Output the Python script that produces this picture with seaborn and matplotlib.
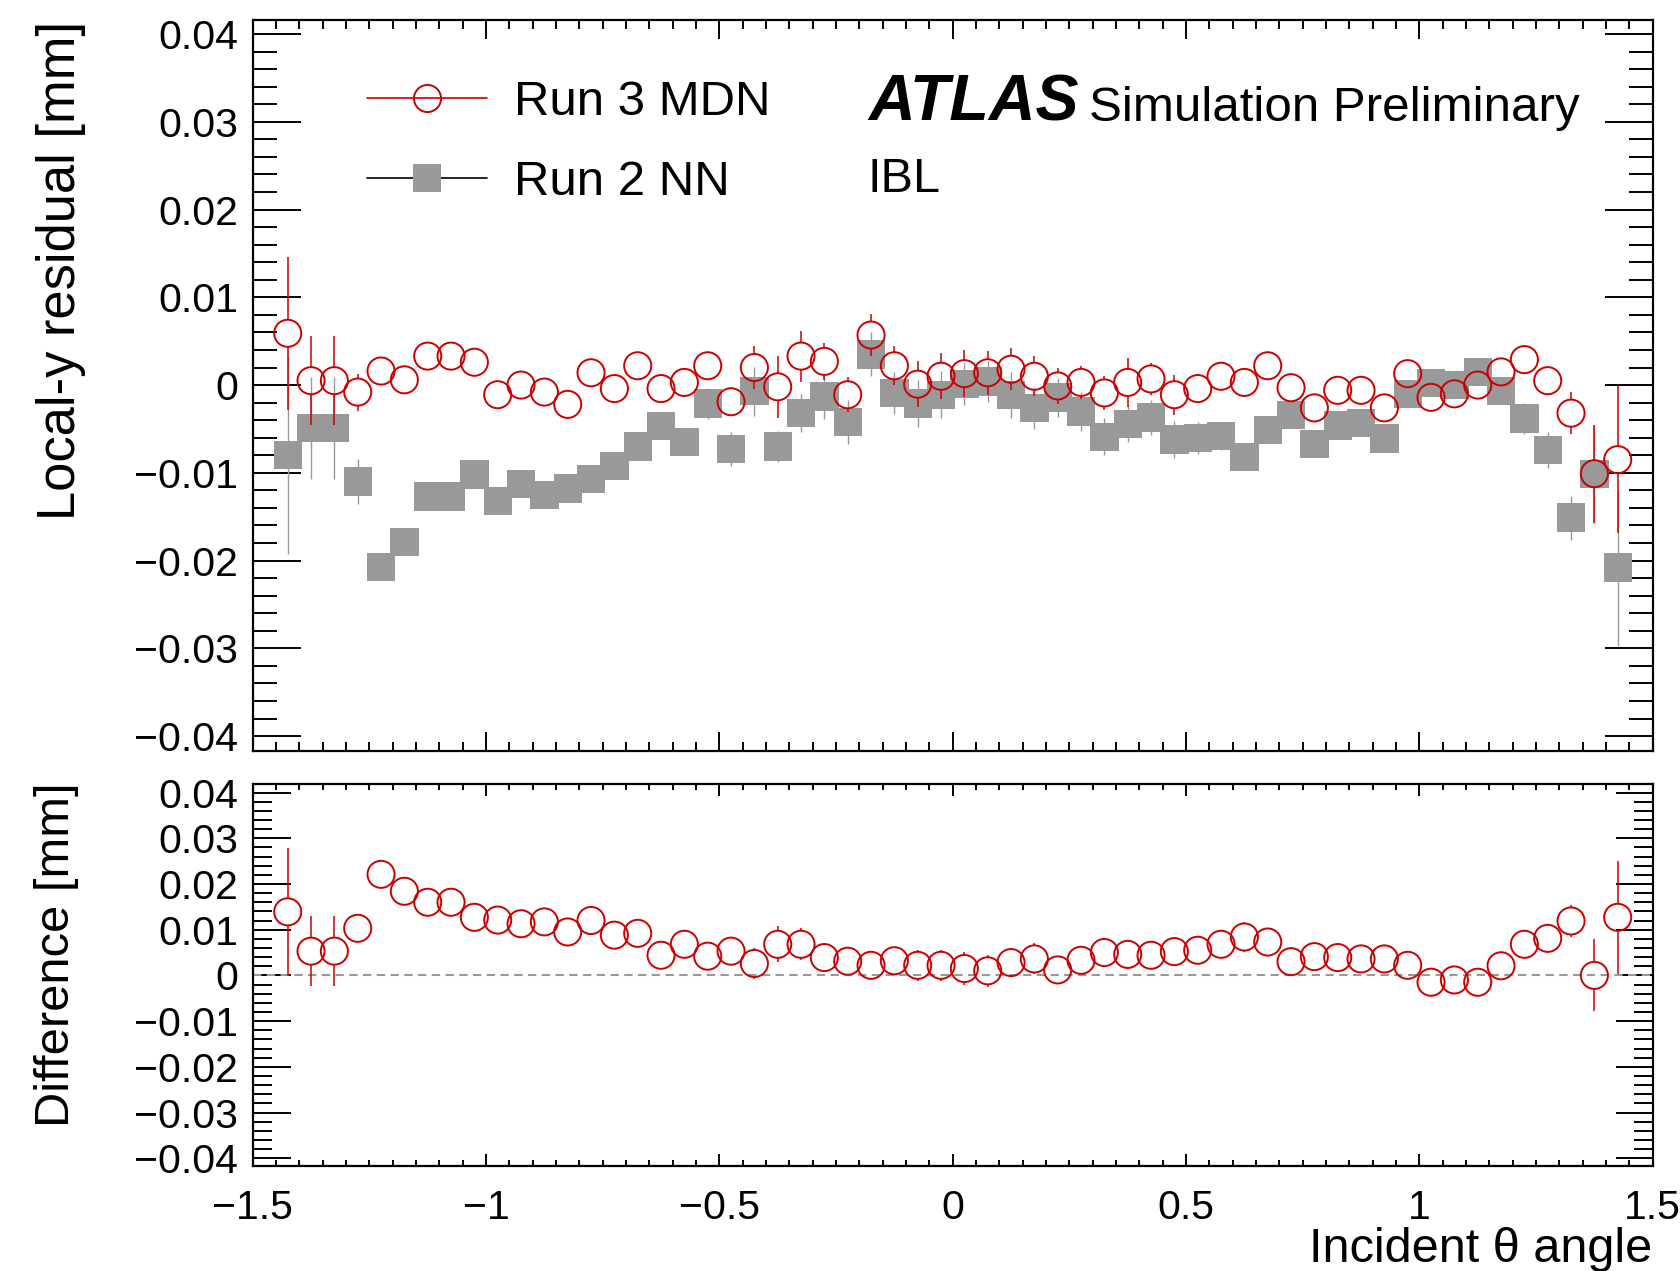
import numpy as np
import pandas as pd
import matplotlib
matplotlib.use("Agg")
import matplotlib.pyplot as plt
import seaborn as sns
from matplotlib.lines import Line2D
from matplotlib.ticker import MultipleLocator, FuncFormatter, NullFormatter

# ---------------- data ----------------
theta = [-1.425, -1.375, -1.325, -1.275, -1.225, -1.175, -1.125, -1.075, -1.025, -0.975,
         -0.925, -0.875, -0.825, -0.775, -0.725, -0.675, -0.625, -0.575, -0.525, -0.475,
         -0.425, -0.375, -0.325, -0.275, -0.225, -0.175, -0.125, -0.075, -0.025, 0.025,
         0.075, 0.125, 0.175, 0.225, 0.275, 0.325, 0.375, 0.425, 0.475, 0.525,
         0.575, 0.625, 0.675, 0.725, 0.775, 0.825, 0.875, 0.925, 0.975, 1.025,
         1.075, 1.125, 1.175, 1.225, 1.275, 1.325, 1.375, 1.425]

run3_mdn = [0.0059, 0.0005, 0.0005, -0.0008, 0.0016, 0.0006, 0.0033, 0.0033, 0.0026, -0.0011,
            0.0000, -0.0008, -0.0022, 0.0014, -0.0004, 0.0022, -0.0004, 0.0003, 0.0022, -0.0019,
            0.0020, -0.0002, 0.0033, 0.0027, -0.0011, 0.0057, 0.0022, 0.0001, 0.0010, 0.0013,
            0.0014, 0.0018, 0.0010, -0.0001, 0.0003, -0.0009, 0.0003, 0.0007, -0.0011, -0.0004,
            0.0010, 0.0003, 0.0022, -0.0003, -0.0026, -0.0006, -0.0006, -0.0026, 0.0013, -0.0014,
            -0.0010, 0.0000, 0.0015, 0.0029, 0.0005, -0.0032, -0.0101, -0.0085]
run3_err = [0.0087, 0.0051, 0.0051, 0.0021, 0.0012, 0.0012, 0.0010, 0.0010, 0.0010, 0.0010,
            0.0010, 0.0010, 0.0010, 0.0010, 0.0010, 0.0012, 0.0012, 0.0012, 0.0014, 0.0014,
            0.0024, 0.0035, 0.0029, 0.0021, 0.0020, 0.0024, 0.0022, 0.0026, 0.0026, 0.0027,
            0.0025, 0.0024, 0.0023, 0.0021, 0.0019, 0.0019, 0.0028, 0.0018, 0.0023, 0.0014,
            0.0012, 0.0012, 0.0012, 0.0012, 0.0012, 0.0012, 0.0012, 0.0012, 0.0012, 0.0012,
            0.0012, 0.0012, 0.0012, 0.0012, 0.0014, 0.0024, 0.0056, 0.0084]

run2_nn = [-0.0080, -0.0049, -0.0049, -0.0110, -0.0207, -0.0179, -0.0127, -0.0127, -0.0102, -0.0132,
           -0.0113, -0.0125, -0.0118, -0.0107, -0.0092, -0.0070, -0.0047, -0.0065, -0.0021, -0.0073,
           -0.0007, -0.0070, -0.0032, -0.0013, -0.0042, 0.0035, -0.0009, -0.0021, -0.0011, 0.0001,
           0.0004, -0.0011, -0.0026, -0.0014, -0.0030, -0.0059, -0.0044, -0.0037, -0.0062, -0.0060,
           -0.0058, -0.0082, -0.0051, -0.0034, -0.0067, -0.0046, -0.0043, -0.0061, -0.0010, 0.0002,
           0.0000, 0.0015, -0.0007, -0.0038, -0.0074, -0.0151, -0.0101, -0.0208]
run2_err = [0.0112, 0.0058, 0.0058, 0.0026, 0.0012, 0.0012, 0.0010, 0.0010, 0.0010, 0.0010,
            0.0010, 0.0010, 0.0010, 0.0010, 0.0010, 0.0012, 0.0012, 0.0012, 0.0018, 0.0019,
            0.0028, 0.0018, 0.0022, 0.0026, 0.0025, 0.0025, 0.0024, 0.0027, 0.0027, 0.0024,
            0.0023, 0.0026, 0.0024, 0.0022, 0.0022, 0.0021, 0.0021, 0.0020, 0.0021, 0.0018,
            0.0016, 0.0014, 0.0014, 0.0014, 0.0014, 0.0014, 0.0014, 0.0014, 0.0014, 0.0014,
            0.0014, 0.0014, 0.0014, 0.0018, 0.0020, 0.0025, 0.0056, 0.0089]

difference = [0.0139, 0.0053, 0.0053, 0.0103, 0.0221, 0.0184, 0.0160, 0.0160, 0.0127, 0.0121,
              0.0113, 0.0117, 0.0095, 0.0120, 0.0088, 0.0092, 0.0044, 0.0068, 0.0042, 0.0053,
              0.0026, 0.0068, 0.0068, 0.0039, 0.0031, 0.0022, 0.0032, 0.0022, 0.0022, 0.0015,
              0.0010, 0.0028, 0.0036, 0.0012, 0.0033, 0.0050, 0.0046, 0.0044, 0.0052, 0.0055,
              0.0068, 0.0084, 0.0073, 0.0030, 0.0041, 0.0039, 0.0036, 0.0036, 0.0022, -0.0015,
              -0.0010, -0.0015, 0.0021, 0.0068, 0.0081, 0.0119, 0.0000, 0.0127]
diff_err = [0.0140, 0.0076, 0.0076, 0.0030, 0.0020, 0.0020, 0.0018, 0.0018, 0.0018, 0.0018,
            0.0018, 0.0018, 0.0018, 0.0018, 0.0018, 0.0020, 0.0020, 0.0020, 0.0024, 0.0025,
            0.0034, 0.0039, 0.0035, 0.0031, 0.0030, 0.0031, 0.0030, 0.0034, 0.0034, 0.0036,
            0.0035, 0.0032, 0.0034, 0.0030, 0.0029, 0.0028, 0.0032, 0.0027, 0.0030, 0.0024,
            0.0022, 0.0033, 0.0020, 0.0020, 0.0020, 0.0020, 0.0020, 0.0020, 0.0020, 0.0020,
            0.0020, 0.0020, 0.0020, 0.0022, 0.0025, 0.0034, 0.0079, 0.0124]

x_ticks = [-1.5, -1.0, -0.5, 0.0, 0.5, 1.0, 1.5]
legend_labels = ["Run 3 MDN", "Run 2 NN"]

df = pd.DataFrame({"theta": theta, "run3": run3_mdn, "run3_err": run3_err,
                   "run2": run2_nn, "run2_err": run2_err,
                   "diff": difference, "diff_err": diff_err})

# ---------------- style ----------------
RED = "#cc0000"
GRAY = "#999999"
DPI = 100
W, H = 1681, 1271

sns.set_theme(style="ticks")
plt.rcParams["font.family"] = ["Liberation Sans", "DejaVu Sans"]
plt.rcParams["axes.unicode_minus"] = True
plt.rcParams["text.color"] = "black"

fig = plt.figure(figsize=(W / DPI, H / DPI), dpi=DPI)
LEFT, RIGHT = 252.7, 1652.7


def rect(top, bottom):
    return [LEFT / W, 1 - bottom / H, (RIGHT - LEFT) / W, (bottom - top) / H]


ax1 = fig.add_axes(rect(20, 751))
ax2 = fig.add_axes(rect(784.3, 1166))

YL1 = (-0.0417, 0.0416)
YL2 = (-0.0417, 0.0418)
XL = (-1.5, 1.5)

MS_C = 19.5   # circle diameter, pt
MS_S = 20.4   # square side, pt


def fmt(v, pos=None):
    v = round(v, 6)
    if abs(v) < 1e-9:
        return "0"
    return f"{v:g}".replace("-", "\u2212")


def radius_data(ax_h_px, ylim):
    return (MS_C / 2 * DPI / 72) / ax_h_px * (ylim[1] - ylim[0])


def split_bars(ax, x, y, e, r, color, lw, z):
    x = np.asarray(x); y = np.asarray(y); e = np.asarray(e)
    m = e > r
    ax.vlines(x[m], y[m] + r, y[m] + e[m], color=color, lw=lw, zorder=z)
    ax.vlines(x[m], y[m] - e[m], y[m] - r, color=color, lw=lw, zorder=z)


# ---------------- top panel ----------------
ax1.set_xlim(*XL)
ax1.set_ylim(*YL1)
ax1.vlines(df["theta"], df["run2"] - df["run2_err"], df["run2"] + df["run2_err"],
           color=GRAY, lw=1.0, zorder=2)
sns.scatterplot(data=df, x="theta", y="run2", ax=ax1, marker="s", s=MS_S ** 2,
                color=GRAY, edgecolor="none", linewidth=0, zorder=3, legend=False)
r1 = radius_data(731, YL1)
split_bars(ax1, df["theta"], df["run3"], df["run3_err"], r1, RED, 1.1, 4)
sns.scatterplot(data=df, x="theta", y="run3", ax=ax1, marker="o", s=MS_C ** 2,
                color=RED, facecolor="none", edgecolor=RED, linewidth=1.4, zorder=5,
                legend=False)

# ---------------- bottom panel ----------------
ax2.set_xlim(*XL)
ax2.set_ylim(*YL2)
ax2.axhline(0, color=GRAY, lw=1.5, ls=(0, (4, 2.6)), zorder=1)
r2 = radius_data(381.7, YL2)
split_bars(ax2, df["theta"], df["diff"], df["diff_err"], r2, RED, 1.1, 4)
sns.scatterplot(data=df, x="theta", y="diff", ax=ax2, marker="o", s=MS_C ** 2,
                color=RED, facecolor="none", edgecolor=RED, linewidth=1.4, zorder=5,
                legend=False)

# ---------------- axes cosmetics ----------------
for ax in (ax1, ax2):
    ax.set_xlabel("")
    ax.set_ylabel("")
    for sp in ax.spines.values():
        sp.set_visible(True)
        sp.set_color("black")
        sp.set_linewidth(1.6)
    ax.xaxis.set_major_locator(MultipleLocator(0.5))
    ax.xaxis.set_minor_locator(MultipleLocator(0.05))
    ax.yaxis.set_major_locator(MultipleLocator(0.01))
    ax.yaxis.set_minor_locator(MultipleLocator(0.002))
    ax.yaxis.set_major_formatter(FuncFormatter(fmt))
    ax.tick_params(which="both", direction="in", top=True, bottom=True, left=True,
                   right=True, color="black", labelcolor="black", width=1.4)
    ax.tick_params(axis="y", which="major", labelsize=29.5, pad=10.4)

ax1.tick_params(axis="x", which="major", length=13.7, labelbottom=False)
ax1.tick_params(axis="x", which="minor", length=6.5)
ax1.tick_params(axis="y", which="major", length=34.5)
ax1.tick_params(axis="y", which="minor", length=17)
ax1.xaxis.set_major_formatter(NullFormatter())

ax2.set_xticks(x_ticks)
ax2.xaxis.set_major_formatter(FuncFormatter(fmt))
ax2.tick_params(axis="x", which="major", length=8.6, labelsize=29.5, pad=16.5)
ax2.tick_params(axis="x", which="minor", length=4.3)
ax2.tick_params(axis="y", which="major", length=27)
ax2.tick_params(axis="y", which="minor", length=13.7)

# ---------------- texts ----------------
fig.text(61 / W, 1 - 21 / H, "Local-y residual [mm]", rotation=90, ha="center",
         va="top", fontsize=37.8, color="black")
fig.text(57 / W, 1 - 782 / H, "Difference [mm]", rotation=90, ha="center",
         va="top", fontsize=35.2, color="black")
fig.text(RIGHT / W, 1 - 1262 / H, "Incident \u03b8 angle", ha="right",
         va="baseline", fontsize=35, color="black")

ax1.text(0.4395, 0.862, "ATLAS", transform=ax1.transAxes, fontsize=46.5,
         fontweight="bold", fontstyle="italic", va="baseline", color="black")
ax1.text(0.5975, 0.862, "Simulation Preliminary", transform=ax1.transAxes,
         fontsize=35.5, va="baseline", color="black")
ax1.text(0.4395, 0.765, "IBL", transform=ax1.transAxes, fontsize=35,
         va="baseline", color="black")

handles = [
    Line2D([], [], color=RED, lw=1.2, marker="o", ms=MS_C, mfc="none", mec=RED, mew=1.4),
    Line2D([], [], color="black", lw=1.2, marker="s", ms=MS_S, mfc=GRAY, mec=GRAY, mew=0),
]
ax1.legend(handles, legend_labels, loc="upper left", bbox_to_anchor=(0.0814, 0.918),
           frameon=False, fontsize=35.4, handlelength=2.45, handletextpad=0.55,
           labelspacing=0.72, borderpad=0, borderaxespad=0, labelcolor="black")

fig.savefig("out.png", dpi=DPI)
